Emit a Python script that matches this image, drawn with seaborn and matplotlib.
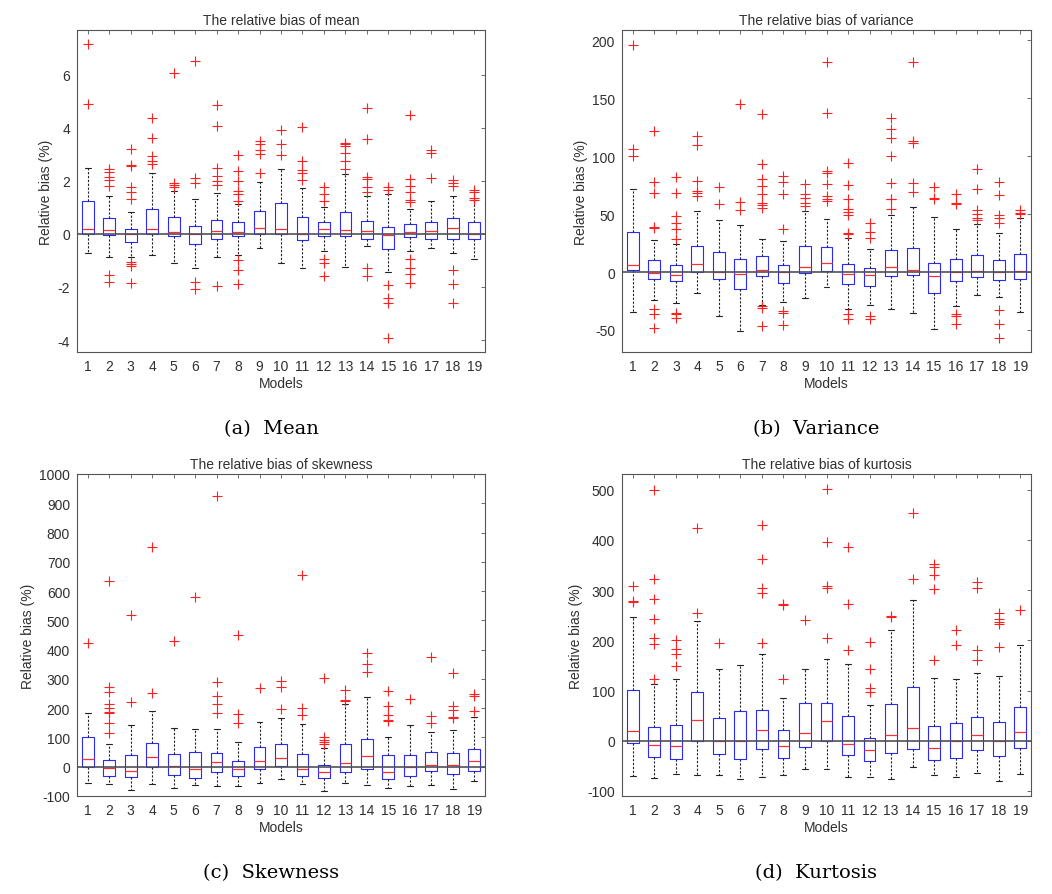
import numpy as np
import pandas as pd
import matplotlib
matplotlib.use("Agg")
import matplotlib.pyplot as plt
import seaborn as sns

models = [str(i) for i in range(1, 20)]

# ---------------- (a) Mean ----------------
mean_wlo = [-0.73, -0.87, -0.87, -0.79, -1.10, -1.27, -0.87, -0.78, -0.55, -1.10, -1.27, -0.66, -1.23, -0.45, -1.42, -0.64, -0.52, -0.73, -0.95]
mean_q1 = [-0.02, -0.05, -0.29, -0.02, -0.07, -0.39, -0.18, -0.08, 0.0, 0.0, -0.22, -0.07, -0.07, -0.18, -0.58, -0.10, -0.18, -0.18, -0.18]
mean_med = [0.18, 0.16, -0.01, 0.18, 0.08, 0.0, 0.09, 0.08, 0.24, 0.20, 0.0, 0.18, 0.14, 0.09, -0.03, 0.08, 0.09, 0.23, 0.01]
mean_q3 = [1.24, 0.59, 0.18, 0.95, 0.62, 0.30, 0.53, 0.45, 0.85, 1.18, 0.62, 0.43, 0.84, 0.49, 0.25, 0.36, 0.45, 0.58, 0.43]
mean_whi = [2.50, 1.43, 0.84, 2.29, 1.60, 1.30, 1.53, 1.12, 1.96, 2.43, 1.72, 1.00, 2.25, 1.43, 1.50, 0.93, 1.24, 1.43, 1.27]
mean_out = [
    [7.15, 4.91],
    [2.45, 2.32, 2.15, 2.02, 1.82, -1.56, -1.83],
    [3.19, 2.60, 2.56, 1.75, 1.56, 1.31, -1.05, -1.15, -1.22, -1.86],
    [4.38, 3.63, 2.94, 2.75, 2.63],
    [6.05, 1.93, 1.85, 1.78],
    [6.50, 2.10, 1.90, -1.81, -2.06],
    [4.85, 4.07, 2.50, 2.19, 2.00, 1.85, -1.98],
    [2.96, 2.35, 2.00, 1.62, 1.50, 1.24, -0.98, -1.36, -1.90],
    [3.50, 3.40, 3.17, 3.00, 2.31],
    [3.90, 3.40, 2.98],
    [4.03, 2.73, 2.40, 2.30, 2.03],
    [1.75, 1.50, 1.25, -0.95, -1.08, -1.58],
    [3.44, 3.38, 3.32, 3.04, 2.75, 2.44],
    [4.76, 3.57, 2.15, 2.06, 1.75, 1.58, -1.27, -1.58],
    [1.75, 1.66, -1.93, -2.40, -2.59, -3.93],
    [4.48, 2.06, 1.81, 1.56, 1.28, 1.20, -0.95, -1.27, -1.52, -1.86],
    [3.17, 3.04, 2.12],
    [2.02, 1.93, 1.81, -1.37, -1.90, -2.61],
    [1.65, 1.56, 1.34, 1.28],
]

# ---------------- (b) Variance ----------------
var_wlo = [-34.3, -24.2, -26.5, -17.9, -38.0, -51.0, -28.0, -26.0, -22.2, -13.0, -32.3, -28.5, -32.3, -35.2, -49.0, -29.4, -20.2, -21.3, -34.3]
var_q1 = [1.7, -6.3, -7.8, 0.0, -6.3, -14.4, -3.5, -9.2, -1.2, 0.9, -10.0, -12.1, -3.5, -2.6, -17.9, -7.8, -4.3, -6.9, -6.3]
var_med = [6.0, -1.2, -2.9, 7.2, 0.0, -1.4, 1.4, 0.0, 4.0, 8.0, -1.7, -2.9, 4.0, 1.7, -3.5, 0.3, 0.6, 0.3, 1.2]
var_q3 = [34.6, 10.4, 5.8, 22.5, 17.6, 11.5, 13.8, 6.0, 22.5, 21.9, 6.6, 3.7, 19.0, 21.0, 8.0, 11.0, 14.7, 10.0, 15.9]
var_whi = [71.5, 27.7, 24.0, 53.0, 44.7, 40.3, 28.8, 26.5, 52.7, 46.0, 29.0, 20.2, 49.0, 56.2, 47.8, 36.9, 41.2, 34.0, 47.0]
var_out = [
    [196, 106, 100],
    [122, 78, 68.6, 39, 38, -32.3, -36, -48],
    [82.4, 68, 48.4, 42, 36.9, 28.8, -35.2, -36.6, -39.5],
    [117.6, 109.5, 78.7, 70, 68.6, 65.7],
    [73.8, 59],
    [144.7, 60.8, 53.3],
    [136.3, 93, 80, 74.4, 67.7, 59.4, 57.6, 55, -29.4, -31.4, -46.7],
    [83, 77.8, 67, 36.9, -33.7, -35.7, -46],
    [76.4, 67.1, 64.3, 60, 57],
    [181, 137, 87.3, 85.3, 76.4, 65.7, 63.4, 61.4],
    [94.5, 75, 62.8, 54.2, 51.9, 49, 33.5, 32.8, -36.6, -40.9],
    [42, 34.6, 29.4, -38, -40.9],
    [132.6, 123.3, 116.1, 100.3, 77.2, 63.4, 62.8, 54.8],
    [181, 113.3, 111.2, 77.2, 69.2],
    [73.8, 64.3, 62.8],
    [67.1, 59.4, 58.5, -36.6, -37.5, -45.2],
    [88.8, 71.5, 53.3, 49.9, 47, 45],
    [77.8, 66.3, 49, 47, 42.7, -33.1, -44.4, -56.8],
    [53.3, 51.3, 49.9],
]

# ---------------- (c) Skewness ----------------
skew_wlo = [-56, -58, -78, -59, -73, -61, -65, -67, -56, -42, -59, -82, -56, -61, -73, -67, -61, -75, -50]
skew_q1 = [-2, -30, -36, 0, -27, -39, -19, -31, -8, 1, -30, -39, -19, -8, -42, -33, -14, -25, -16]
skew_med = [27, -5, -16, 32, 1, -9, 15, -9, 18, 30, -8, -18, 12, 35, -18, 0, 7, 5, 20]
skew_q3 = [100, 24, 39, 81, 44, 52, 47, 20, 66, 78, 43, 5, 77, 94, 39, 39, 52, 47, 61]
skew_whi = [183, 77, 143, 192, 132, 128, 128, 84, 154, 166, 146, 64, 215, 238, 101, 143, 118, 126, 171]
skew_out = [
    [423],
    [633, 274, 254, 213, 200, 188, 182, 149, 116],
    [520, 222],
    [750, 251],
    [430],
    [579],
    [926, 291, 243, 213, 182],
    [450, 179, 149],
    [270],
    [294, 272, 196],
    [655, 202, 177],
    [302, 102, 90, 84, 78],
    [262, 228, 224],
    [389, 352, 325],
    [257, 208, 177, 160, 157],
    [230],
    [376, 175, 151],
    [321, 208, 194, 171, 168],
    [247, 243, 192],
]

# ---------------- (d) Kurtosis ----------------
kurt_wlo = [-70, -74, -66, -68, -69, -76, -72, -69, -56, -56, -72, -72, -77, -52, -69, -72, -64, -80, -67]
kurt_q1 = [-5, -33, -37, 0, -27, -36, -16, -34, -13, -1, -28, -41, -25, -16, -39, -34, -19, -31, -14]
kurt_med = [20, -9, -11, 42, -1, 0, 22, -11, 15, 40, -6, -19, 12, 26, -15, 0, 11, -1, 17]
kurt_q3 = [102, 27, 32, 98, 46, 60, 62, 21, 75, 75, 50, 5, 74, 106, 29, 36, 48, 38, 68]
kurt_whi = [246, 113, 122, 238, 143, 150, 172, 85, 143, 162, 153, 72, 220, 281, 125, 123, 135, 128, 190]
kurt_out = [
    [309, 279, 276],
    [500, 322, 283, 243, 204, 193, 122],
    [201, 183, 173, 149],
    [423, 255],
    [194],
    [],
    [430, 362, 305, 294, 194],
    [273, 270, 123],
    [240],
    [502, 395, 309, 305, 205],
    [386, 273, 180],
    [196, 143, 104, 97],
    [248, 246],
    [454, 322],
    [352, 346, 329, 303, 160],
    [221, 190],
    [317, 305, 180, 160],
    [255, 243, 236, 232, 186],
    [261],
]

titles = ["The relative bias of mean", "The relative bias of variance",
          "The relative bias of skewness", "The relative bias of kurtosis"]
captions = ["(a)  Mean", "(b)  Variance", "(c)  Skewness", "(d)  Kurtosis"]
yticks_list = [[-4, -2, 0, 2, 4, 6], [-50, 0, 50, 100, 150, 200],
               list(range(-100, 1001, 100)), list(range(-100, 501, 100))]
ylims = [(-4.45, 7.68), (-69, 209), (-100, 1000), (-110, 531)]

panels = [
    (mean_wlo, mean_q1, mean_med, mean_q3, mean_whi, mean_out),
    (var_wlo, var_q1, var_med, var_q3, var_whi, var_out),
    (skew_wlo, skew_q1, skew_med, skew_q3, skew_whi, skew_out),
    (kurt_wlo, kurt_q1, kurt_med, kurt_q3, kurt_whi, kurt_out),
]

sns.set_theme(style="white")
plt.rcParams["font.family"] = ["Liberation Sans", "DejaVu Sans"]
TXT = "#303030"

W, H = 1052, 895
fig = plt.figure(figsize=(W / 100, H / 100), dpi=100)
fig.patch.set_facecolor("white")

# axes rectangles in pixel coordinates (left, top, right, bottom)
rects = [(77, 31, 485, 353), (622, 31, 1031, 353),
         (77, 475, 485, 797), (622, 475, 1031, 797)]
cap_pos = [(271, 429), (816, 429), (271, 873), (816, 873)]

for k, (wlo, q1, med, q3, whi, outs) in enumerate(panels):
    l, t, r, b = rects[k]
    ax = fig.add_axes([l / W, 1 - b / H, (r - l) / W, (b - t) / H])
    rows = []
    for i, m in enumerate(models):
        for v in (wlo[i], q1[i], med[i], q3[i], whi[i]):
            rows.append({"model": m, "value": v})
    box_df = pd.DataFrame(rows)
    out_rows = [{"model": m, "value": v} for m, vals in zip(models, outs) for v in vals]
    out_df = pd.DataFrame(out_rows, columns=["model", "value"])

    sns.boxplot(data=box_df, x="model", y="value", order=models, ax=ax,
                whis=(0, 100), width=0.55, fill=False, color="blue",
                linewidth=0.8, showfliers=False,
                boxprops={"color": "#2a2aff", "linewidth": 0.8},
                medianprops={"color": "#ff3030", "linewidth": 0.9},
                whiskerprops={"color": "#222222", "linestyle": (0, (2, 1.5)), "linewidth": 0.8},
                capprops={"color": "#222222", "linewidth": 0.8})
    sns.stripplot(data=out_df, x="model", y="value", order=models, ax=ax,
                  jitter=False, marker="+", s=6.5, color="#ff2020", edgecolor="#ff2020",
                  linewidth=0.8, zorder=4)
    ax.axhline(0, color="#505058", linewidth=1.2, zorder=5)

    ax.set_xlim(-0.5, 18.5)
    ax.set_ylim(*ylims[k])
    ax.set_yticks(yticks_list[k])
    ax.set_yticklabels([str(v) for v in yticks_list[k]])
    ax.set_xticks(range(19))
    ax.set_xticklabels(models)
    ax.tick_params(direction="in", top=True, right=True, length=3, width=0.6,
                   colors="#555555", labelcolor=TXT, labelsize=10, pad=5)
    for sp in ax.spines.values():
        sp.set_color("#555555")
        sp.set_linewidth(0.8)
    ax.set_title(titles[k], fontsize=10, color=TXT, pad=4)
    ax.set_xlabel("Models", fontsize=10, color=TXT, labelpad=2)
    ax.set_ylabel("Relative bias (%)", fontsize=10, color=TXT, labelpad=3)
    ax.set_facecolor("white")

    cx, cy = cap_pos[k]
    fig.text(cx / W, 1 - cy / H, captions[k], ha="center", va="center",
             fontsize=14, color="black", family=["DejaVu Serif"])

fig.savefig("out.png", dpi=100, facecolor="white")
